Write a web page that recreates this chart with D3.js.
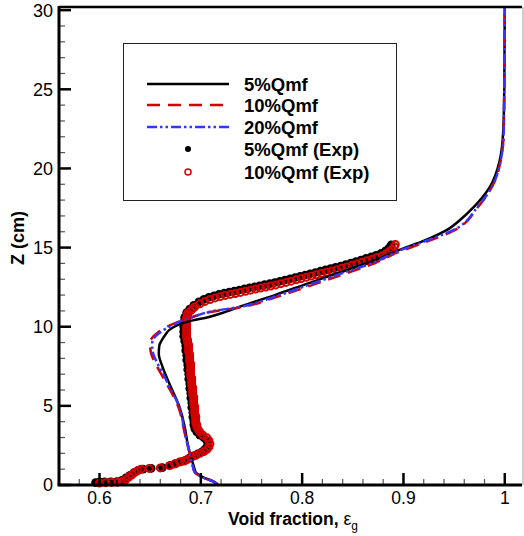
<!DOCTYPE html>
<html lang="en">
<head>
<meta charset="utf-8">
<title>Void fraction profile</title>
<script src="https://d3js.org/d3.v7.min.js"></script>
<style>
  body { margin: 0; background: #fff; }
  svg { display: block; font-family: Arial, "Liberation Sans", sans-serif; }
</style>
</head>
<body>
<div id="chart"></div>
<script>

// simulation profiles, [void fraction, Z (cm)]
var sim5 = [[0.716,0.05],[0.713,0.2],[0.702,0.5],[0.695,0.8],[0.693,1.2],[0.690,1.8],[0.687,2.6],[0.684,3.7],
  [0.679,4.9],[0.669,6.4],[0.662,7.5],[0.6585,8.3],[0.659,8.8],[0.661,9.1],[0.665,9.5],[0.669,9.8],[0.677,10.1],
  [0.692,10.4],[0.707,10.6],[0.725,10.95],[0.740,11.3],[0.773,12.0],[0.806,12.74],[0.839,13.47],[0.872,14.2],
  [0.896,14.85],[0.921,15.45],[0.945,16.2],[0.955,16.7],[0.970,17.6],[0.985,18.8],[0.995,20.5],[0.9985,22.4],
  [0.9995,25],[1.0,30.2]];
var sim10 = [[0.717,0.05],[0.713,0.2],[0.701,0.5],[0.694,0.8],[0.692,1.2],[0.689,2.0],[0.684,3.3],[0.678,4.9],
  [0.668,6.2],[0.661,7.0],[0.655,7.7],[0.651,8.3],[0.650,8.74],[0.650,9.0],[0.652,9.3],[0.657,9.6],[0.664,9.9],
  [0.670,10.1],[0.679,10.35],[0.691,10.6],[0.708,10.92],[0.737,11.2],[0.773,11.85],[0.806,12.55],[0.839,13.28],
  [0.872,14.02],[0.893,14.66],[0.922,15.35],[0.949,16.05],[0.974,17.6],[0.987,18.8],[0.996,20.5],[0.999,22.4],
  [1.0,30.2]];
var sim20 = [[0.716,0.05],[0.713,0.2],[0.701,0.5],[0.694,0.8],[0.692,1.2],[0.689,2.0],[0.684,3.3],[0.679,4.9],
  [0.669,6.2],[0.663,7.0],[0.657,7.7],[0.653,8.3],[0.652,8.74],[0.652,9.0],[0.654,9.3],[0.659,9.6],[0.666,9.9],
  [0.672,10.1],[0.680,10.35],[0.692,10.6],[0.709,10.95],[0.738,11.25],[0.773,11.9],[0.806,12.63],[0.839,13.37],
  [0.872,14.1],[0.893,14.74],[0.922,15.42],[0.949,16.1],[0.9735,17.6],[0.987,18.8],[0.996,20.5],[0.999,22.4],
  [1.0,30.2]];

// experimental points, [void fraction, Z (cm)]
var exp5 = [[0.596,0.15],[0.600,0.20],[0.605,0.20],[0.611,0.21],[0.617,0.22],[0.622,0.30],[0.626,0.45],[0.630,0.62],
  [0.634,0.78],[0.638,0.92],[0.643,1.00],[0.651,1.05],[0.662,1.10],[0.670,1.25],[0.675,1.35],[0.681,1.48],
  [0.685,1.58],[0.689,1.72],[0.693,1.85],[0.697,1.97],[0.701,2.10],[0.704,2.25],[0.706,2.42],[0.707,2.60],
  [0.706,2.80],[0.703,2.98],[0.699,3.15],[0.696,3.35],[0.694,3.55],[0.693,3.80],[0.693,4.05],[0.692,4.30],
  [0.692,4.60],[0.691,4.90],[0.691,5.20],[0.690,5.50],[0.690,5.80],[0.689,6.10],[0.689,6.40],[0.688,6.70],
  [0.688,7.00],[0.687,7.30],[0.687,7.60],[0.686,7.90],[0.686,8.20],[0.685,8.50],[0.685,8.80],[0.684,9.10],
  [0.683,9.40],[0.683,9.70],[0.683,10.0],[0.683,10.3],[0.684,10.6],[0.686,10.9],[0.689,11.12],[0.693,11.36],
  [0.698,11.57],[0.703,11.73],[0.708,11.86],[0.713,11.96],[0.718,12.05],[0.723,12.12],[0.728,12.19],[0.733,12.25],
  [0.738,12.32],[0.743,12.39],[0.748,12.46],[0.753,12.53],[0.758,12.59],[0.763,12.66],[0.768,12.72],[0.773,12.79],
  [0.778,12.87],[0.783,12.95],[0.788,13.03],[0.793,13.11],[0.798,13.19],[0.803,13.27],[0.808,13.35],[0.813,13.43],
  [0.818,13.51],[0.823,13.59],[0.828,13.67],[0.833,13.75],[0.838,13.84],[0.843,13.93],[0.848,14.03],[0.853,14.12],
  [0.858,14.22],[0.863,14.32],[0.868,14.41],[0.873,14.52],[0.878,14.64],[0.882,14.78],[0.885,14.92],[0.887,15.06],
  [0.888,15.18]];
var exp10 = [[0.600,0.12],[0.606,0.15],[0.612,0.17],[0.618,0.18],[0.622,0.22],[0.626,0.35],[0.629,0.50],[0.632,0.65],
  [0.635,0.80],[0.638,0.92],[0.641,1.00],[0.649,1.05],[0.660,1.08],[0.669,1.22],[0.674,1.32],[0.679,1.45],
  [0.684,1.52],[0.687,1.62],[0.691,1.76],[0.695,1.88],[0.699,2.00],[0.703,2.12],[0.706,2.25],[0.708,2.42],
  [0.709,2.60],[0.708,2.80],[0.706,2.98],[0.702,3.15],[0.699,3.35],[0.697,3.55],[0.696,3.68],[0.696,3.80],
  [0.695,3.92],[0.695,4.05],[0.695,4.20],[0.695,4.35],[0.694,4.50],[0.694,4.65],[0.694,4.80],[0.694,4.95],
  [0.693,5.10],[0.693,5.25],[0.693,5.40],[0.693,5.55],[0.692,5.70],[0.692,5.85],[0.692,6.00],[0.692,6.15],
  [0.691,6.30],[0.691,6.45],[0.691,6.60],[0.691,6.75],[0.690,6.90],[0.690,7.05],[0.690,7.20],[0.690,7.35],
  [0.690,7.50],[0.690,7.65],[0.689,7.80],[0.689,7.95],[0.689,8.10],[0.689,8.25],[0.688,8.40],[0.688,8.55],
  [0.688,8.70],[0.688,8.85],[0.687,9.00],[0.687,9.15],[0.686,9.30],[0.686,9.45],[0.686,9.60],[0.686,9.75],
  [0.686,9.90],[0.686,10.05],[0.686,10.20],[0.686,10.35],[0.686,10.48],[0.686,10.6],[0.687,10.72],[0.687,10.85],
  [0.690,11.02],[0.692,11.14],[0.694,11.26],[0.699,11.45],[0.704,11.60],[0.709,11.72],[0.714,11.82],[0.719,11.90],
  [0.724,11.98],[0.729,12.04],[0.734,12.10],[0.739,12.17],[0.744,12.24],[0.749,12.31],[0.754,12.38],[0.759,12.44],
  [0.764,12.51],[0.769,12.57],[0.774,12.64],[0.779,12.72],[0.784,12.80],[0.789,12.88],[0.794,12.96],[0.799,13.04],
  [0.804,13.12],[0.809,13.20],[0.814,13.28],[0.819,13.36],[0.824,13.44],[0.829,13.52],[0.834,13.60],[0.839,13.69],
  [0.844,13.78],[0.849,13.88],[0.854,13.97],[0.859,14.07],[0.864,14.17],[0.869,14.26],[0.874,14.37],[0.879,14.48],
  [0.883,14.62],[0.886,14.76],[0.889,14.90],[0.891,15.05],[0.892,15.20]];

var xTicks = [0.6, 0.7, 0.8, 0.9, 1.0];
var xTickLabels = ["0.6", "0.7", "0.8", "0.9", "1"];
var xMinor = [0.58, 0.62, 0.64, 0.66, 0.68, 0.72, 0.74, 0.76, 0.78, 0.82, 0.84, 0.86, 0.88, 0.92, 0.94, 0.96, 0.98];
var yTicks = [0, 5, 10, 15, 20, 25, 30];
var yMinor = [1,2,3,4,6,7,8,9,11,12,13,14,16,17,18,19,21,22,23,24,26,27,28,29];
var legendLabels = ["5%Qmf", "10%Qmf", "20%Qmf", "5%Qmf (Exp)", "10%Qmf (Exp)"];

var W = 524, H = 536;
var margin = {top: 7, right: 2, bottom: 51, left: 59};

var svg = d3.select("#chart").append("svg")
    .attr("width", W)
    .attr("height", H);

var x = d3.scaleLinear().domain([0.56, 1.017]).range([margin.left, W - margin.right]);
var y = d3.scaleLinear().domain([0, 30.2]).range([H - margin.bottom, margin.top]);

var red = "#d40000", blue = "#3535ff";

var line = d3.line()
    .x(function(d) { return x(d[0]); })
    .y(function(d) { return y(d[1]); })
    .curve(d3.curveMonotoneY);

var plot = svg.append("g");

// experiment markers go under the lines
plot.selectAll(".e5")
    .data(exp5)
    .enter()
    .append("circle")
      .attr("cx", function(d) { return x(d[0]); })
      .attr("cy", function(d) { return y(d[1]); })
      .attr("r", 4.3)
      .style("fill", "#000");

plot.selectAll(".e10")
    .data(exp10)
    .enter()
    .append("circle")
      .attr("cx", function(d) { return x(d[0]); })
      .attr("cy", function(d) { return y(d[1]); })
      .attr("r", 3.5)
      .style("fill", "none")
      .style("stroke", red)
      .style("stroke-width", 2);

plot.append("path").datum(sim5).attr("d", line)
    .style("fill", "none").style("stroke", "#000").style("stroke-width", 2.5);
plot.append("path").datum(sim10).attr("d", line)
    .style("fill", "none").style("stroke", red).style("stroke-width", 2.5)
    .style("stroke-dasharray", "13,8");
plot.append("path").datum(sim20).attr("d", line)
    .style("fill", "none").style("stroke", blue).style("stroke-width", 2.5)
    .style("stroke-dasharray", "10,3,2.5,3,2.5,3");

// frame
var x0 = margin.left, x1 = W - margin.right, y0 = H - margin.bottom, y1 = margin.top;
svg.append("line").attr("x1", x0).attr("x2", x1).attr("y1", y1).attr("y2", y1)
    .style("stroke", "#000").style("stroke-width", 2.5);
svg.append("line").attr("x1", x1 + 1).attr("x2", x1 + 1).attr("y1", y1).attr("y2", y0)
    .style("stroke", "#999").style("stroke-width", 1);

// axes, ticks pointing inward
var xAxis = svg.append("g").attr("transform", "translate(0," + y0 + ")");
xAxis.selectAll(".minor").data(xMinor).enter().append("line")
    .attr("x1", function(d) { return x(d); }).attr("x2", function(d) { return x(d); })
    .attr("y1", 0).attr("y2", -6)
    .style("stroke", "#555").style("stroke-width", 1.2);
xAxis.selectAll(".major").data(xTicks).enter().append("line")
    .attr("x1", function(d) { return x(d); }).attr("x2", function(d) { return x(d); })
    .attr("y1", 0).attr("y2", -12)
    .style("stroke", "#000").style("stroke-width", 2.5);
xAxis.selectAll("text").data(xTicks).enter().append("text")
    .attr("x", function(d) { return x(d); })
    .attr("y", 19)
    .attr("text-anchor", "middle")
    .style("font-size", "17.5px")
    .text(function(d, i) { return xTickLabels[i]; });
xAxis.append("line").attr("x1", x0 - 1.5).attr("x2", x1).attr("y1", 0).attr("y2", 0)
    .style("stroke", "#000").style("stroke-width", 3);

var yAxis = svg.append("g").attr("transform", "translate(" + x0 + ",0)");
yAxis.selectAll(".minor").data(yMinor).enter().append("line")
    .attr("y1", function(d) { return y(d); }).attr("y2", function(d) { return y(d); })
    .attr("x1", 0).attr("x2", 6)
    .style("stroke", "#555").style("stroke-width", 1.2);
yAxis.selectAll(".major").data(yTicks).enter().append("line")
    .attr("y1", function(d) { return y(d); }).attr("y2", function(d) { return y(d); })
    .attr("x1", 0).attr("x2", 12)
    .style("stroke", "#000").style("stroke-width", 2.5);
yAxis.selectAll("text").data(yTicks).enter().append("text")
    .attr("x", -6)
    .attr("y", function(d) { return y(d); })
    .attr("dy", "0.36em")
    .attr("text-anchor", "end")
    .style("font-size", "18px")
    .text(function(d) { return d; });
yAxis.append("line").attr("x1", 0).attr("x2", 0).attr("y1", y1 - 1).attr("y2", y0)
    .style("stroke", "#000").style("stroke-width", 3);

// axis titles
var xt = svg.append("text")
    .attr("x", 293).attr("y", 525)
    .attr("text-anchor", "middle")
    .style("font-size", "17.5px").style("font-weight", "bold");
xt.append("tspan").text("Void fraction, ");
xt.append("tspan").style("font-weight", "normal").text("ε");
xt.append("tspan").attr("dy", 5).style("font-size", "12px").style("font-weight", "normal").text("g");

svg.append("text")
    .attr("transform", "translate(24,238)rotate(-90)")
    .attr("text-anchor", "middle")
    .style("font-size", "18px").style("font-weight", "bold")
    .text("Z (cm)");

// legend
var lg = svg.append("g");
lg.append("rect")
    .attr("x", 123.5).attr("y", 43.5).attr("width", 273).attr("height", 157)
    .style("fill", "#fff").style("stroke", "#222").style("stroke-width", 1);

var rowY = [84, 105, 127, 149, 172];
var styles = [
  {stroke: "#000", dash: null},
  {stroke: red, dash: "13,8"},
  {stroke: blue, dash: "10,3,2.5,3,2.5,3"}
];
styles.forEach(function(s, i) {
  lg.append("line")
    .attr("x1", 147).attr("x2", 229).attr("y1", rowY[i]).attr("y2", rowY[i])
    .style("stroke", s.stroke).style("stroke-width", 2.5)
    .style("stroke-dasharray", s.dash);
});
lg.append("circle").attr("cx", 188).attr("cy", rowY[3]).attr("r", 3).style("fill", "#000");
lg.append("circle").attr("cx", 188).attr("cy", rowY[4]).attr("r", 3)
    .style("fill", "none").style("stroke", red).style("stroke-width", 1.5);

lg.selectAll(".lbl").data(legendLabels).enter().append("text")
    .attr("x", 244)
    .attr("y", function(d, i) { return rowY[i]; })
    .attr("dy", "0.36em")
    .style("font-size", "18.5px").style("font-weight", "bold")
    .text(function(d) { return d; });

</script>
</body>
</html>
